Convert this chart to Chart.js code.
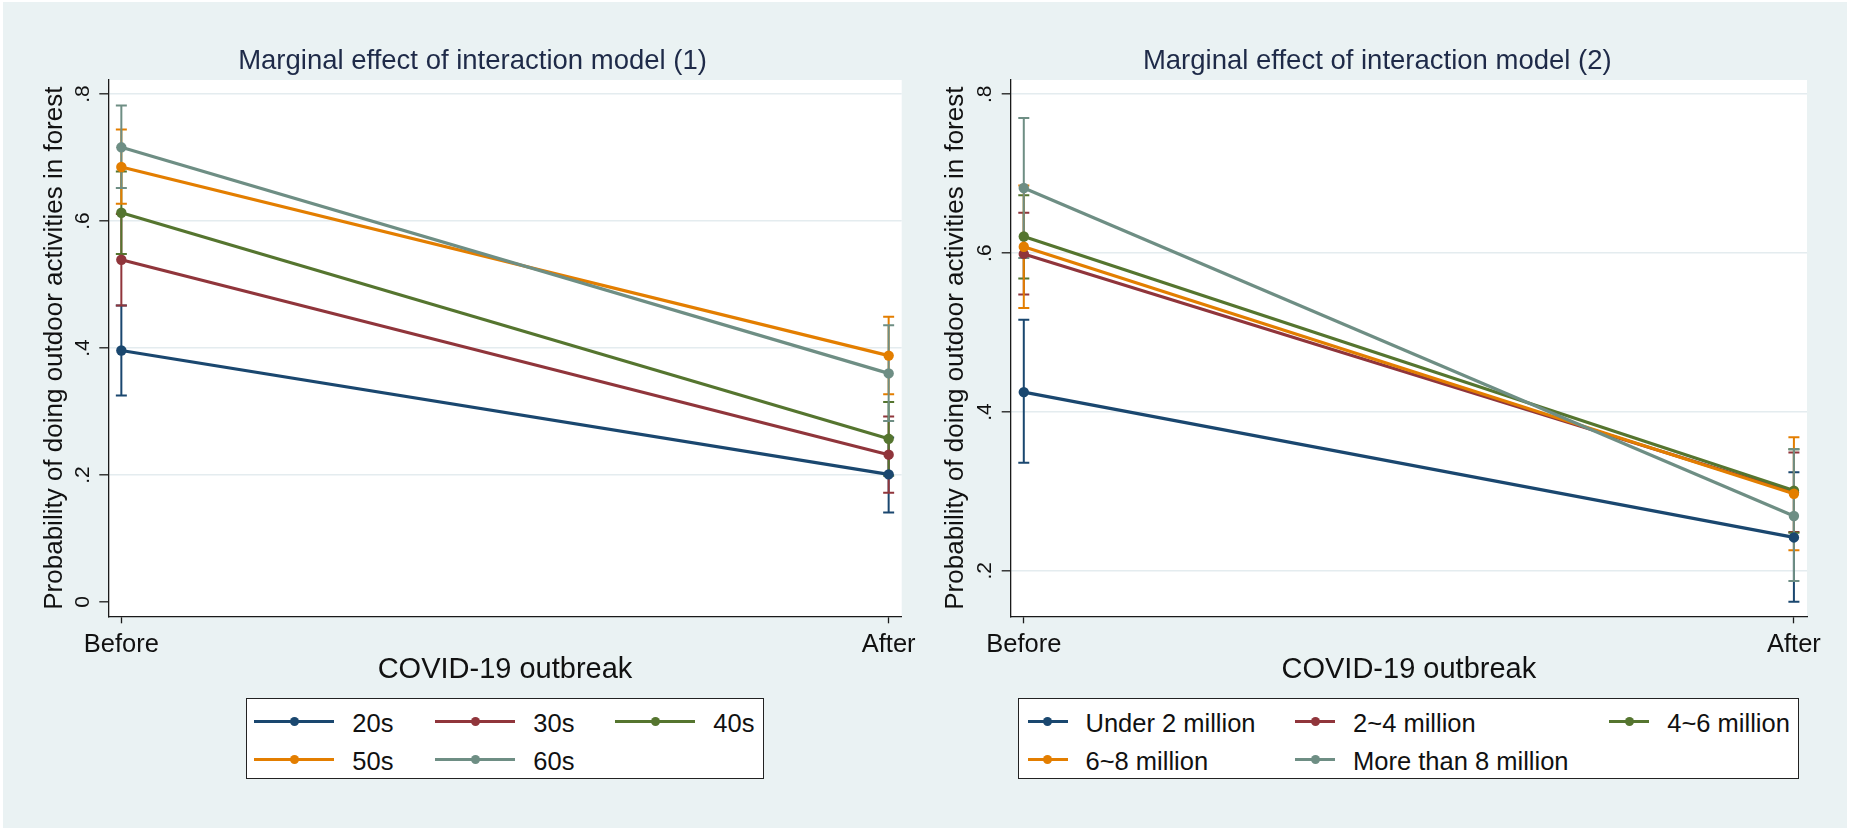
<!DOCTYPE html>
<html>
<head>
<meta charset="utf-8">
<script src="https://cdn.jsdelivr.net/npm/chart.js@4.4.1/dist/chart.umd.min.js"></script>
<style>
html,body{margin:0;padding:0;background:#fff;width:1852px;height:831px;overflow:hidden;font-family:'Liberation Sans',Arial,sans-serif;}
#bg{position:absolute;left:3px;top:2px;width:1844px;height:826px;background:#EAF2F3;}
canvas{position:absolute;top:0;}
.title{position:absolute;top:43.5px;font-size:27.5px;line-height:32px;color:#1E2A48;text-align:center;white-space:nowrap;}
.legend{position:absolute;top:698px;height:79px;background:#fff;border:1px solid #222;}
.sym{position:absolute;height:3px;}
.dot{position:absolute;width:9px;height:9px;border-radius:50%;}
.lab{position:absolute;font-size:25.5px;line-height:30px;color:#111;white-space:nowrap;}
</style>
</head>
<body>
<div id="bg"></div>
<canvas id="c1" width="940" height="700" style="left:0px;width:940px;height:700px"></canvas>
<canvas id="c2" width="940" height="700" style="left:902px;width:940px;height:700px"></canvas>
<div class="title" style="left:0px;width:945px">Marginal effect of interaction model (1)</div>
<div class="title" style="left:877.3px;width:1000px">Marginal effect of interaction model (2)</div>
<div class="legend" id="leg1" style="left:246px;width:516px"></div>
<div class="legend" id="leg2" style="left:1017.6px;width:779px"></div>
<script>
// ---- data ----
const xLabels = ['Before', 'After'];
const xTitle = 'COVID-19 outbreak';
const yTitle = 'Probability of doing outdoor activities in forest';

const yTicks1 = [0, 0.2, 0.4, 0.6, 0.8];
const yTickLabels1 = ['0', '.2', '.4', '.6', '.8'];
const yTicks2 = [0.2, 0.4, 0.6, 0.8];
const yTickLabels2 = ['.2', '.4', '.6', '.8'];

const seriesColors = ['#1A476F', '#90353B', '#55752F', '#E37E00', '#6E8E84'];

// model (1): age groups
const ageGroups = ['20s', '30s', '40s', '50s', '60s'];
const m1Before   = [0.396, 0.539, 0.613, 0.685, 0.716];
const m1BeforeLo = [0.325, 0.467, 0.548, 0.627, 0.652];
const m1BeforeHi = [0.467, 0.611, 0.678, 0.744, 0.782];
const m1After    = [0.201, 0.232, 0.257, 0.388, 0.360];
const m1AfterLo  = [0.141, 0.172, 0.199, 0.327, 0.285];
const m1AfterHi  = [0.259, 0.292, 0.315, 0.449, 0.436];

// model (2): income groups
const incomeGroups = ['Under 2 million', '2~4 million', '4~6 million', '6~8 million', 'More than 8 million'];
const m2Before   = [0.425, 0.599, 0.621, 0.608, 0.682];
const m2BeforeLo = [0.336, 0.548, 0.568, 0.531, 0.594];
const m2BeforeHi = [0.516, 0.651, 0.673, 0.685, 0.770];
const m2After    = [0.242, 0.299, 0.301, 0.297, 0.269];
const m2AfterLo  = [0.161, 0.249, 0.248, 0.226, 0.187];
const m2AfterHi  = [0.324, 0.349, 0.353, 0.368, 0.353];

// ---- chart setup ----
Chart.defaults.font.family = "'Liberation Sans', Arial, sans-serif";
Chart.defaults.color = '#111';

const plotBg = {
  id: 'plotBg',
  beforeDraw(chart) {
    const a = chart.chartArea, ctx = chart.ctx;
    ctx.save(); ctx.fillStyle = '#fff';
    ctx.fillRect(a.left, a.top, a.right - a.left, a.bottom - a.top);
    ctx.restore();
  }
};

function ciPlugin(lo0, hi0, lo1, hi1) {
  return {
    id: 'ci',
    beforeDatasetsDraw(chart) {
      const ctx = chart.ctx, xs = chart.scales.x, ys = chart.scales.y;
      ctx.save();
      ctx.lineWidth = 2;
      for (let i = 0; i < lo0.length; i++) {
        ctx.strokeStyle = seriesColors[i];
        [[0, lo0[i], hi0[i]], [1, lo1[i], hi1[i]]].forEach(([xv, lo, hi]) => {
          const px = xs.getPixelForValue(xv);
          const p1 = ys.getPixelForValue(lo), p2 = ys.getPixelForValue(hi);
          ctx.beginPath();
          ctx.moveTo(px, p1); ctx.lineTo(px, p2);
          ctx.moveTo(px - 5.5, p1); ctx.lineTo(px + 5.5, p1);
          ctx.moveTo(px - 5.5, p2); ctx.lineTo(px + 5.5, p2);
          ctx.stroke();
        });
      }
      ctx.restore();
    }
  };
}

function makeChart(id, names, before, after, lo0, hi0, lo1, hi1, yMin, yMax, yTicks, yTickLabels, yWidth, yTitlePad, padRight) {
  const datasets = names.map((n, i) => ({
    label: n,
    data: [{x: 0, y: before[i]}, {x: 1, y: after[i]}],
    borderColor: seriesColors[i],
    backgroundColor: seriesColors[i],
    pointBackgroundColor: seriesColors[i],
    pointBorderWidth: 0,
    pointRadius: 5.2,
    borderWidth: 3.2,
    tension: 0,
    order: -i
  }));
  return new Chart(document.getElementById(id), {
    type: 'line',
    data: {datasets},
    plugins: [plotBg, ciPlugin(lo0, hi0, lo1, hi1)],
    options: {
      responsive: false,
      animation: false,
      devicePixelRatio: 1,
      layout: {padding: {top: 80, left: 0, right: padRight, bottom: 0}},
      plugins: {legend: {display: false}, tooltip: {enabled: false}, title: {display: false}},
      scales: {
        x: {
          type: 'linear',
          min: -0.017, max: 1.017,
          afterBuildTicks: s => { s.ticks = xLabels.map((l, i) => ({value: i})); },
          afterFit: s => { s.height = 83.7; },
          ticks: {callback: (v, i) => xLabels[i], font: {size: 25.5}, padding: 6.5, color: '#111', maxRotation: 0, minRotation: 0},
          grid: {drawOnChartArea: false, drawTicks: true, tickLength: 7, tickColor: '#1a1a1a', tickWidth: 1.3},
          border: {display: true, color: '#1a1a1a', width: 1.3},
          title: {display: true, text: xTitle, font: {size: 29}, color: '#111', padding: {top: 0, bottom: 12.6}}
        },
        y: {
          type: 'linear',
          min: yMin, max: yMax,
          afterBuildTicks: s => { s.ticks = yTicks.map(v => ({value: v})); },
          afterFit: s => { s.width = yWidth; },
          ticks: {callback: (v, i) => yTickLabels[i], font: {size: 21}, padding: 7.8, color: '#111', minRotation: 90, maxRotation: 90, crossAlign: 'center'},
          grid: {
            color: c => (c.tick && c.tick.value === 0) ? 'rgba(0,0,0,0)' : '#E4ECEF',
            lineWidth: 1.6, drawTicks: true, tickLength: 9, tickColor: '#1a1a1a', tickWidth: 1.3
          },
          border: {display: true, color: '#1a1a1a', width: 1.3},
          title: {display: true, text: yTitle, font: {size: 26}, color: '#111', padding: {top: yTitlePad, bottom: 0}}
        }
      }
    }
  });
}

makeChart('c1', ageGroups, m1Before, m1After, m1BeforeLo, m1BeforeHi, m1AfterLo, m1AfterHi,
  -0.0225, 0.822, yTicks1, yTickLabels1, 108.3, 39.4, 38.3);
makeChart('c2', incomeGroups, m2Before, m2After, m2BeforeLo, m2BeforeHi, m2AfterLo, m2AfterHi,
  0.1427, 0.818, yTicks2, yTickLabels2, 108.7, 38.4, 35);

// ---- legends ----
function buildLegend(elId, names, cols, lineLen, textOff) {
  const box = document.getElementById(elId);
  const rows = [22, 60];
  names.forEach((n, i) => {
    const r = Math.floor(i / 3), c = i % 3;
    const cy = rows[r], x0 = cols[c];
    const line = document.createElement('div');
    line.className = 'sym';
    line.style.left = x0 + 'px'; line.style.top = (cy - 1.5) + 'px';
    line.style.width = lineLen + 'px'; line.style.background = seriesColors[i];
    box.appendChild(line);
    const dot = document.createElement('div');
    dot.className = 'dot';
    dot.style.left = (x0 + lineLen / 2 - 4.5) + 'px'; dot.style.top = (cy - 4.5) + 'px';
    dot.style.background = seriesColors[i];
    box.appendChild(dot);
    const lab = document.createElement('div');
    lab.className = 'lab';
    lab.textContent = n;
    lab.style.left = (x0 + textOff) + 'px'; lab.style.top = (cy - 13.5) + 'px';
    box.appendChild(lab);
  });
}
buildLegend('leg1', ageGroups, [7, 188, 368], 80, 98.3);
buildLegend('leg2', incomeGroups, [9, 276.6, 590.8], 40, 57.9);
</script>
</body>
</html>
